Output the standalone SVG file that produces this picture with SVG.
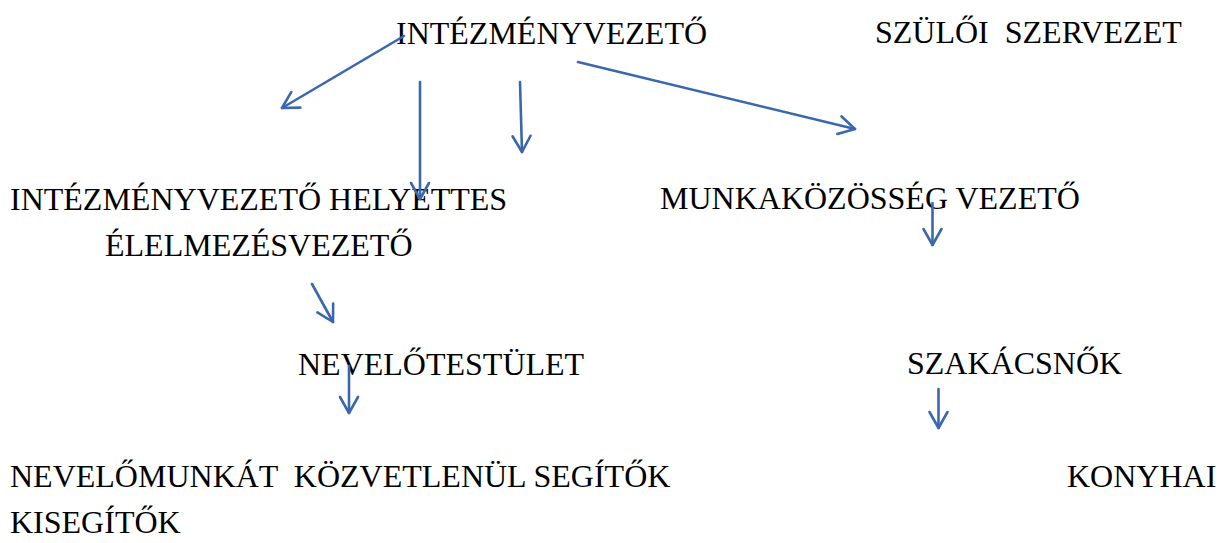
<svg xmlns="http://www.w3.org/2000/svg" width="1223" height="543" viewBox="0 0 1223 543">
<style>
text{font-family:"Liberation Serif","Times New Roman",serif;font-size:32px;fill:#000}
.c{fill:none;stroke:#3A67AD;stroke-width:2.6;stroke-linecap:round}
</style>
<defs>
<marker id="ah" markerUnits="userSpaceOnUse" markerWidth="40" markerHeight="40" viewBox="-20 -20 40 40" refX="0" refY="0" orient="auto" overflow="visible">
<path d="M-16,-9 L0,0 L-16,9" fill="none" stroke="#3A67AD" stroke-width="2.6" stroke-linecap="round" stroke-linejoin="round"/>
</marker>
</defs>
<rect width="1223" height="543" fill="#fff"/>
<g id="n-intezmenyvezeto"><text x="396" y="44">INTÉZMÉNYVEZETŐ</text></g>
<g id="n-szuloi"><text x="875" y="43" xml:space="preserve">SZÜLŐI  SZERVEZET</text></g>
<g id="n-helyettes"><text x="10" y="210">INTÉZMÉNYVEZETŐ HELYETTES</text></g>
<g id="n-elelmezes"><text x="105" y="256">ÉLELMEZÉSVEZETŐ</text></g>
<g id="n-munkakozosseg"><text x="660" y="209">MUNKAKÖZÖSSÉG VEZETŐ</text></g>
<g id="n-nevelotestulet"><text x="298" y="375">NEVELŐTESTÜLET</text></g>
<g id="n-szakacsnok"><text x="907" y="374">SZAKÁCSNŐK</text></g>
<g id="n-segitok"><text x="10" y="487" xml:space="preserve">NEVELŐMUNKÁT  KÖZVETLENÜL SEGÍTŐK</text></g>
<g id="n-konyhai"><text x="1067" y="487">KONYHAI</text></g>
<g id="n-kisegitok"><text x="10" y="533">KISEGÍTŐK</text></g>
<g id="connectors">
<path class="c" d="M404,36 L282,108" marker-end="url(#ah)"/>
<path class="c" d="M420,82 L420,199" marker-end="url(#ah)"/>
<path class="c" d="M520,82 L522,152" marker-end="url(#ah)"/>
<path class="c" d="M578,62 L855,129" marker-end="url(#ah)"/>
<path class="c" d="M932.5,203 L932.5,245" marker-end="url(#ah)"/>
<path class="c" d="M312,284 L333,322" marker-end="url(#ah)"/>
<path class="c" d="M349,366 L349,413" marker-end="url(#ah)"/>
<path class="c" d="M938.5,389 L938.5,428" marker-end="url(#ah)"/>
</g>
</svg>
